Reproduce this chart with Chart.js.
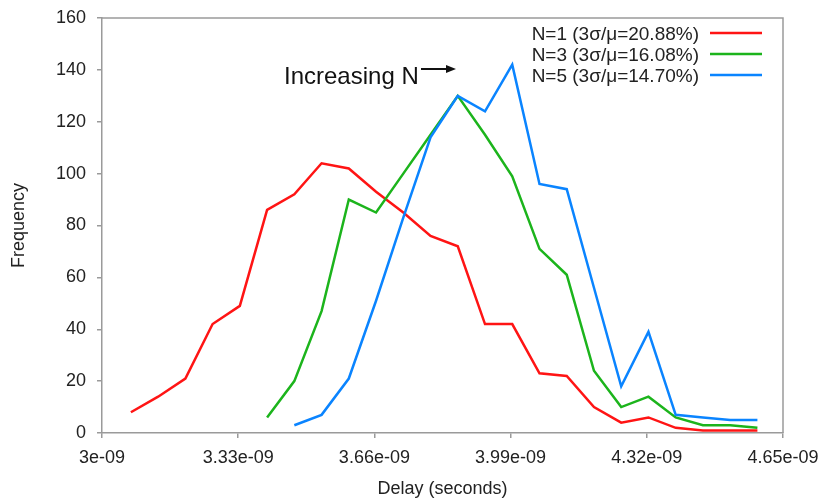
<!DOCTYPE html>
<html>
<head>
<meta charset="utf-8">
<script src="https://cdn.jsdelivr.net/npm/chart.js@4.4.1/dist/chart.umd.min.js"></script>
<style>
  body { margin: 0; background: #fff; }
  #wrap { width: 820px; height: 500px; }
</style>
</head>
<body>
<div id="wrap"><canvas id="chart" width="820" height="500"></canvas></div>
<script>
// bin centres (seconds)
const delays = [
    3.070e-9, 3.136e-9, 3.202e-9, 3.268e-9, 3.334e-9, 3.400e-9,
    3.466e-9, 3.532e-9, 3.598e-9, 3.664e-9, 3.730e-9, 3.796e-9,
    3.862e-9, 3.928e-9, 3.994e-9, 4.060e-9, 4.126e-9, 4.192e-9,
    4.258e-9, 4.324e-9, 4.390e-9, 4.456e-9, 4.522e-9, 4.588e-9
];
const freqN1 = [8, 14, 21, 42, 49, 86, 92, 104, 102, 93, 85, 76, 72, 42, 42, 23, 22, 10, 4, 6, 2, 1, 1, 1];
const freqN3 = [null, null, null, null, null, 6, 20, 47, 90, 85, 100, 115, 130, 115, 99, 71, 61, 24, 10, 14, 6, 3, 3, 2];
const freqN5 = [null, null, null, null, null, null, 3, 7, 21, 51, 83, 114, 130, 124, 142, 96, 94, 56, 18, 39, 7, 6, 5, 5];

const seriesNames = ["N=1 (3σ/μ=20.88%)", "N=3 (3σ/μ=16.08%)", "N=5 (3σ/μ=14.70%)"];
const xTicks = [3e-9, 3.33e-9, 3.66e-9, 3.99e-9, 4.32e-9, 4.65e-9];
const xTickLabels = ["3e-09", "3.33e-09", "3.66e-09", "3.99e-09", "4.32e-09", "4.65e-09"];
const yTicks = [0, 20, 40, 60, 80, 100, 120, 140, 160];

const colors = {
    red: "#ff1414",
    green: "#1cb41c",
    blue: "#0a84ff",
    axis: "#9a9a9a",
    text: "#222222",
};
const seriesColors = [colors.red, colors.green, colors.blue];
const fontFamily = "'Liberation Sans', Arial, Helvetica, sans-serif";

function toPoints(values) {
    const pts = [];
    values.forEach((v, i) => {
	if (v !== null) pts.push({ x: delays[i], y: v });
    });
    return pts;
}

// plot frame, legend (text before sample line) and the arrow note
const decorPlugin = {
    id: "decor",
    afterDraw(chart) {
	const ctx = chart.ctx;
	const a = chart.chartArea;
	ctx.save();
	ctx.strokeStyle = colors.axis;
	ctx.lineWidth = 1.5;
	ctx.beginPath();
	ctx.moveTo(a.left, a.top);
	ctx.lineTo(a.right, a.top);
	ctx.lineTo(a.right, a.bottom);
	ctx.stroke();

	ctx.font = "19px " + fontFamily;
	ctx.fillStyle = colors.text;
	ctx.textAlign = "right";
	ctx.textBaseline = "alphabetic";
	seriesNames.forEach((name, i) => {
	    const y = 33 + i * 21;
	    ctx.fillText(name, 699, y + 7);
	    ctx.strokeStyle = seriesColors[i];
	    ctx.lineWidth = 2.5;
	    ctx.beginPath();
	    ctx.moveTo(710, y);
	    ctx.lineTo(762, y);
	    ctx.stroke();
	});

	ctx.font = "24px " + fontFamily;
	ctx.fillStyle = "#111";
	ctx.textAlign = "left";
	ctx.fillText("Increasing N", 284, 84);
	ctx.strokeStyle = "#111";
	ctx.lineWidth = 2;
	ctx.beginPath();
	ctx.moveTo(421, 69);
	ctx.lineTo(447, 69);
	ctx.stroke();
	ctx.beginPath();
	ctx.moveTo(456, 69);
	ctx.lineTo(446, 65);
	ctx.lineTo(446, 73);
	ctx.closePath();
	ctx.fill();
	ctx.restore();
    }
};

const chart = new Chart(document.getElementById("chart"), {
    type: "line",
    data: {
	datasets: [freqN1, freqN3, freqN5].map((vals, i) => ({
	    label: seriesNames[i],
	    data: toPoints(vals),
	    borderColor: seriesColors[i],
	    borderWidth: 2.5,
	    pointRadius: 0,
	    tension: 0,
	    fill: false,
	    order: 3 - i,
	})),
    },
    options: {
	responsive: false,
	animation: false,
	devicePixelRatio: 1,
	layout: { padding: { left: 0, right: 37, top: 18, bottom: 0 } },
	plugins: {
	    legend: { display: false },
	    tooltip: { enabled: false },
	},
	scales: {
	    x: {
		type: "linear",
		min: 3e-9,
		max: 4.65e-9,
		afterBuildTicks: (scale) => { scale.ticks = xTicks.map(v => ({ value: v })); },
		afterFit: (scale) => {
		    scale.height = 67;
		    scale.paddingLeft = 0;
		    scale.paddingRight = 0;
		},
		ticks: {
		    callback: (value, index) => xTickLabels[index],
		    color: colors.text,
		    font: { family: fontFamily, size: 18 },
		    padding: 9,
		    maxRotation: 0,
		    autoSkip: false,
		},
		grid: { drawOnChartArea: false, drawTicks: true, tickLength: 5, color: colors.axis, lineWidth: 1.5 },
		border: { color: colors.axis, width: 1.5 },
		title: {
		    display: true,
		    text: "Delay (seconds)",
		    color: colors.text,
		    font: { family: fontFamily, size: 18 },
		    padding: { top: 0, bottom: 0 },
		},
	    },
	    y: {
		min: 0,
		max: 160,
		afterBuildTicks: (scale) => { scale.ticks = yTicks.map(v => ({ value: v })); },
		afterFit: (scale) => {
		    scale.width = 102;
		    scale.paddingTop = 0;
		    scale.paddingBottom = 0;
		},
		ticks: {
		    color: colors.text,
		    font: { family: fontFamily, size: 18 },
		    padding: 11,
		},
		grid: { drawOnChartArea: false, drawTicks: true, tickLength: 5, color: colors.axis, lineWidth: 1.5 },
		border: { color: colors.axis, width: 1.5 },
		title: {
		    display: true,
		    text: "Frequency",
		    color: colors.text,
		    font: { family: fontFamily, size: 18 },
		    padding: { top: 8, bottom: 0 },
		},
	    },
	},
    },
    plugins: [decorPlugin],
});
</script>
</body>
</html>
